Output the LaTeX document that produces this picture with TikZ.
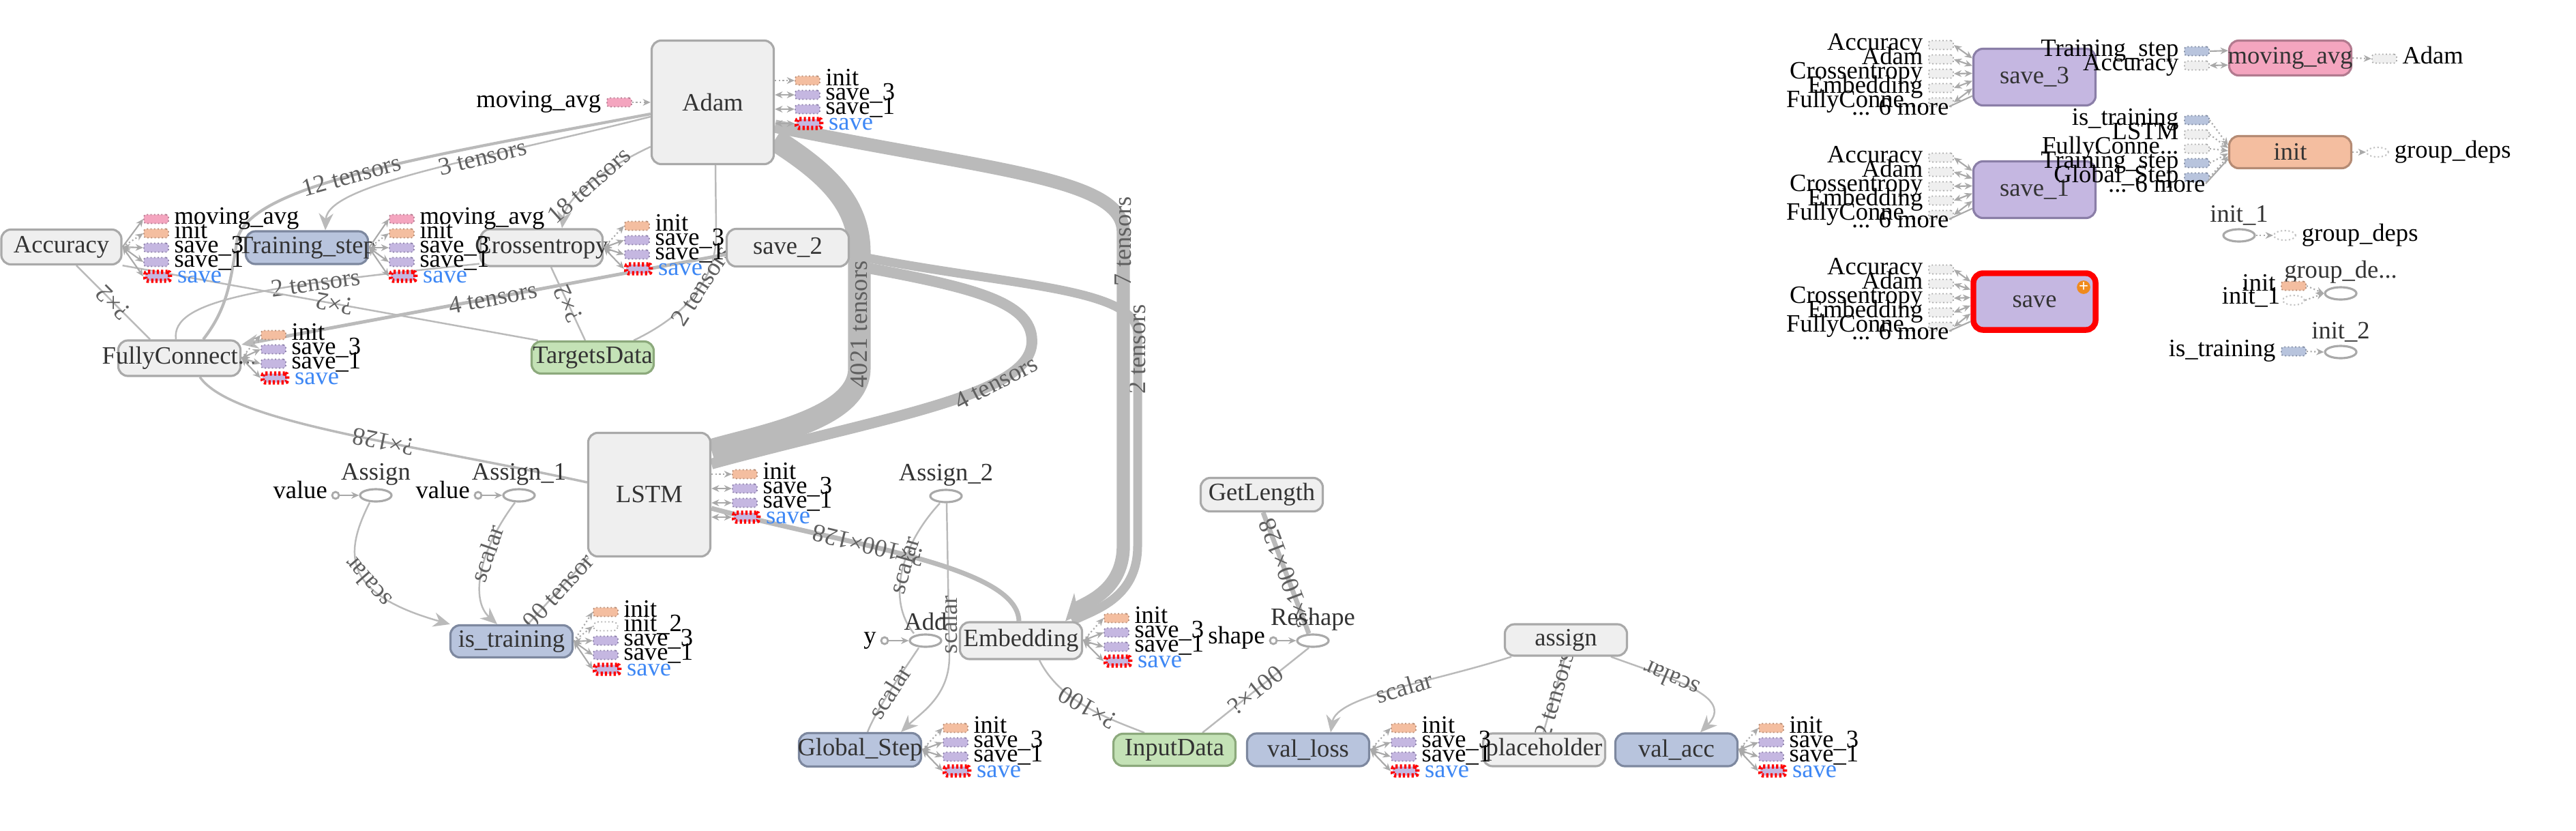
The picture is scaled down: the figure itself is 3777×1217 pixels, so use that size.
\documentclass[tikz,border=0pt]{standalone}
\usepackage{fontspec}
\setmainfont{Liberation Serif}
\usepackage{tikz}
\usetikzlibrary{arrows.meta, shapes.geometric, calc, backgrounds}

\definecolor{opfill}{HTML}{EFEFEF}
\definecolor{opline}{HTML}{A9A9A9}
\definecolor{varfill}{HTML}{B8C4DD}
\definecolor{varline}{HTML}{7D889F}
\definecolor{datfill}{HTML}{C4E2B6}
\definecolor{datline}{HTML}{8CA97C}
\definecolor{savefill}{HTML}{C5B7E1}
\definecolor{saveline}{HTML}{8A7EA7}
\definecolor{movfill}{HTML}{F4A5BF}
\definecolor{movline}{HTML}{B27A8F}
\definecolor{initfill}{HTML}{F4BEA0}
\definecolor{initline}{HTML}{B58B74}
\definecolor{edgecol}{HTML}{BABABA}
\definecolor{elabcol}{HTML}{5F5F5F}
\definecolor{nodetxt}{HTML}{333333}
\definecolor{saveblue}{HTML}{3D87F5}
\definecolor{plusorg}{HTML}{F08A1C}

\newcommand{\nfont}{\fontsize{10.4}{12}\selectfont}
\newcommand{\fitname}[1]{\makebox[0pt]{#1}}
\newcommand{\fcshort}{FullyConne...}
\newcommand{\stdlist}{init/tinit/adot, save\_3/tsave/aarr, save\_1/tsave/aarr, {\color{saveblue}save}/tsel/aarr}
\newcommand{\movlist}{moving\_avg/tmov/aone, init/tinit/adot, save\_3/tsave/aarr, save\_1/tsave/aarr, {\color{saveblue}save}/tsel/aarr}
\newcommand{\trlist}{init/tinit/adot, init\_2/tnone/adot, save\_3/tsave/aarr, save\_1/tsave/aarr, {\color{saveblue}save}/tsel/aarr}
\newcommand{\savein}{Accuracy/tgray/aarr, Adam/tgray/aarr, Crossentropy/tgray/aarr, Embedding/tgray/aarr, \fcshort/tgray/aarr}

% small tags to the right of a node
\newcommand{\annots}[5]{%
  \foreach \lab/\sty/\arr [count=\i] in #5 {
    \node[\sty, anchor=west] (#1-\i) at (#2, #3+21*\i-21) {};
    \node[txt, tlabr] at (#1-\i.south east) {\lab};
    \draw[\arr] (#4) -- (#1-\i.west);
  }}
% small tags to the left of a node
\newcommand{\feeds}[6]{%
  \foreach \lab/\sty/\arr [count=\i] in #6 {
    \pgfmathsetmacro{\fr}{#4+#5*(\i-1)}
    \node[\sty, anchor=west] (#1-in\i) at (#2, #3+21*\i-21) {};
    \node[txt, tlabl] at (#1-in\i.south west) {\lab};
    \draw[\arr] (#1-in\i.east) -- ($(#1.north west)!\fr!(#1.south west)$);
  }}
\newcommand{\moreins}[4]{%
  \node[txt, anchor=base east] (#1-more) at (#2,#3) {... 6 more};
  \draw[aline] (#1-more.east) -- ($(#1.north west)!#4!(#1.south west)$);}

\tikzset{
  txt/.style={inner sep=0pt, font=\nfont},
  tlabr/.style={anchor=base west, xshift=2pt},
  tlabl/.style={anchor=base east, xshift=-2pt},
  op/.style={draw=opline, fill=opfill, line width=0.9pt, rounded corners=4pt,
             minimum width=1.79cm, minimum height=0.48cm, inner sep=0pt,
             text=nodetxt, font=\nfont},
  var/.style={op, draw=varline, fill=varfill},
  dat/.style={op, draw=datline, fill=datfill},
  big/.style={minimum height=1.81cm},
  ell/.style={ellipse, draw=opline, fill=white, line width=0.9pt,
              minimum width=0.46cm, minimum height=0.18cm, inner sep=0pt},
  ellab/.style={font=\nfont, text=nodetxt, inner sep=1pt},
  dell/.style={ellipse, draw=opline!70, densely dotted, fill=white, line width=0.6pt,
               minimum width=0.32cm, minimum height=0.14cm, inner sep=0pt},
  dotin/.style={circle, draw=opline, fill=white, line width=0.8pt,
                minimum size=0.1cm, inner sep=0pt},
  ann/.style={minimum width=0.36cm, minimum height=0.13cm, inner sep=0pt,
              rounded corners=1pt, densely dotted, line width=0.5pt},
  tinit/.style={ann, fill=initfill, draw=initline},
  tsave/.style={ann, fill=savefill, draw=saveline},
  tsel/.style={ann, fill=savefill, draw=red, line width=1.8pt, dash pattern=on 0.9pt off 0.9pt},
  tmov/.style={ann, fill=movfill, draw=movline},
  tgray/.style={ann, fill=opfill, draw=opline},
  tvar/.style={ann, fill=varfill, draw=varline},
  tnone/.style={ann, fill=white, draw=opline, rounded corners=2pt},
  aline/.style={draw=opline, line width=0.6pt},
  aone/.style={aline, -{Stealth[length=3.2pt, width=2.8pt]}},
  adot/.style={aone, densely dotted},
  aarr/.style={aline, {Stealth[length=3.2pt, width=2.8pt]}-{Stealth[length=3.2pt, width=2.8pt]}},
  flow/.style={draw=edgecol, line width=0.7pt},
  headarr/.style={-{Stealth[length=7pt, width=6pt]}},
  elab/.style={text=elabcol, font=\nfont, inner sep=0.5pt},
  upr/.style={elab, sloped},
  flp/.style={elab, sloped, rotate=180}
}

\begin{document}
\begin{tikzpicture}[x=0.01cm, y=-0.01cm]
\useasboundingbox (0,0) rectangle (3777,1217);

% main graph
\node[op, big] (Adam) at (1045,150) {Adam};
\node[op, minimum width=1.76cm, minimum height=0.51cm] (Acc) at (90,362) {Accuracy};
\node[var] (Train) at (450,363) {\fitname{Training\_step}};
\node[op, minimum height=0.54cm] (Cross) at (794,363) {\fitname{Crossentropy}};
\node[op, minimum height=0.55cm] (save2) at (1155,363) {save\_2};
\node[op, minimum height=0.52cm] (FC) at (263,525) {\fitname{FullyConnect...}};
\node[dat, minimum height=0.47cm] (TD) at (869,524) {\fitname{TargetsData}};
\node[op, big] (LSTM) at (952,725) {LSTM};
\node[ell, label={[ellab]above:Assign}] (Assign) at (551,726) {};
\node[ell, label={[ellab]above:Assign\_1}] (Assign1) at (761,726) {};
\node[var, minimum height=0.47cm] (IsTr) at (750,940) {is\_training};
\node[ell, label={[ellab]above:Assign\_2}] (Assign2) at (1387,727) {};
\node[ell, label={[ellab]above:Add}] (Add) at (1357,939) {};
\node[op, minimum height=0.54cm] (Emb) at (1497,939) {Embedding};
\node[var, minimum height=0.49cm] (GS) at (1261,1099) {\fitname{Global\_Step}};
\node[dat, minimum height=0.47cm] (ID) at (1722,1099) {InputData};
\node[op, minimum height=0.49cm] (GL) at (1850,725) {GetLength};
\node[ell, label={[ellab]above:Reshape}] (Reshape) at (1925,939) {};
\node[op, minimum height=0.46cm] (assign) at (2296,938) {assign};
\node[var] (vl) at (1918,1099) {val\_loss};
\node[op] (ph) at (2264,1099) {placeholder};
\node[var] (va) at (2458,1099) {val\_acc};

% inputs drawn in place
\node[tmov, anchor=west] (Adam-mov) at (889,150) {};
\node[txt, tlabl] at (Adam-mov.south west) {moving\_avg};
\draw[adot] (Adam-mov.east) -- (Adam.west |- Adam-mov);
\node[dotin] (Assign-v) at (492,726) {};
\node[txt, tlabl] at (Assign-v.south west) {value};
\draw[aone] (Assign-v.east) -- (Assign.west);
\node[dotin] (Assign1-v) at (701,726) {};
\node[txt, tlabl] at (Assign1-v.south west) {value};
\draw[aone] (Assign1-v.east) -- (Assign1.west);
\node[dotin] (Add-y) at (1297,939) {};
\node[txt, tlabl] at (Add-y.south west) {y};
\draw[aone] (Add-y.east) -- (Add.west);
\node[dotin] (Reshape-s) at (1867,939) {};
\node[txt, tlabl] at (Reshape-s.south west) {shape};
\draw[aone] (Reshape-s.east) -- (Reshape.west);

% outputs drawn in place
\annots{Adam}{1165}{118}{Adam.east |- Adam-\i}{\stdlist}
\annots{Acc}{210}{321}{Acc.east}{\movlist}
\annots{Train}{570}{321}{Train.east}{\movlist}
\annots{Cross}{915}{331}{Cross.east}{\stdlist}
\annots{FC}{382}{491}{FC.east}{\stdlist}
\annots{LSTM}{1073}{695}{LSTM.east |- LSTM-\i}{\stdlist}
\annots{IsTr}{869}{897}{IsTr.east}{\trlist}
\annots{Emb}{1618}{906}{Emb.east}{\stdlist}
\annots{GS}{1382}{1067}{GS.east}{\stdlist}
\annots{vl}{2039}{1067}{vl.east}{\stdlist}
\annots{va}{2578}{1067}{va.east}{\stdlist}

% auxiliary nodes
\node[op, fill=savefill, draw=saveline, minimum height=0.83cm] (save3) at (2983,113) {save\_3};
\node[op, fill=savefill, draw=saveline, minimum height=0.83cm] (save1) at (2983,278) {save\_1};
\node[op, fill=savefill, draw=red, line width=2.4pt, minimum height=0.83cm] (save) at (2983,442) {save};
\node[circle, fill=plusorg, text=white, inner sep=0pt, minimum size=0.15cm,
      font=\fontsize{7}{7}\selectfont\bfseries] (save-plus) at (3055,421) {+};
\feeds{save3}{2827}{66}{0.18}{0.128}{\savein}
\moreins{save3}{2858}{168}{0.82}
\feeds{save1}{2827}{231}{0.18}{0.128}{\savein}
\moreins{save1}{2858}{333}{0.82}
\feeds{save}{2827}{395}{0.18}{0.128}{\savein}
\moreins{save}{2858}{497}{0.82}

\node[op, fill=movfill, draw=movline, minimum height=0.51cm] (mov) at (3358,85) {\fitname{moving\_avg}};
\feeds{mov}{3202}{75}{0.3}{0.39}{{Training\_step/tvar/aone, Accuracy/tgray/aarr}}
\node[tgray, anchor=west] (mov-out) at (3477,86) {};
\draw[adot] (mov.east) -- (mov-out.west);
\node[txt, tlabr] at (mov-out.south east) {Adam};

\node[op, fill=initfill, draw=initline, minimum height=0.47cm] (init) at (3358,223) {init};
\feeds{init}{3202}{176}{0.3}{0.08}{{is\_training/tvar/adot, LSTM/tgray/adot, \fcshort/tgray/adot, Training\_step/tvar/adot, Global\_Step/tvar/adot}}
\moreins{init}{3234}{281}{0.7}
\node[dell] (init-out) at (3486,223) {};
\draw[adot] (init.east) -- (init-out.west);
\node[txt, anchor=west, xshift=2pt] at (init-out.east) {group\_deps};

\node[ell, label={[ellab]above:init\_1}] (init1) at (3283,345) {};
\node[dell] (init1-out) at (3350,345) {};
\draw[adot] (init1.east) -- (init1-out.west);
\node[txt, anchor=west, xshift=2pt] at (init1-out.east) {group\_deps};

\node[ell, label={[ellab]above:group\_de...}] (gdeps) at (3432,430) {};
\node[tinit] (gdeps-in1) at (3363,419) {};
\node[dell] (gdeps-in2) at (3363,440) {};
\node[txt, tlabl] at (gdeps-in1.south west) {init};
\node[txt, tlabl] at (gdeps-in2.south west) {init\_1};
\draw[adot] (gdeps-in1.east) -- (gdeps.west);
\draw[adot] (gdeps-in2.east) -- (gdeps.west);

\node[ell, label={[ellab]above:init\_2}] (init2) at (3432,516) {};
\node[tvar] (init2-in) at (3363,515) {};
\node[txt, tlabl] at (init2-in.south west) {is\_training};
\draw[adot] (init2-in.east) -- (init2.west);

% edges
\begin{scope}[on background layer]
\fill[white] (0,0) rectangle (3777,1217);
\draw[flow, line width=3.7pt] ([yshift=-0.1cm]save2.east) .. controls (1480,420) and (1668,420) .. (1668,490)
  -- (1668,800) node[elab, pos=0.07, rotate=90] {2 tensors}
  .. controls (1668,880) and (1600,895) .. ([xshift=0.75cm]Emb.north);
\draw[flow, line width=4.5pt] ([yshift=-0.25cm]save2.east) .. controls (1420,420) and (1513,440) .. (1513,500)
  .. controls (1513,580) and (1300,610) .. ([yshift=0.45cm]LSTM.east) node[upr, pos=0.3] {4 tensors};
\draw[flow, line width=9.4pt] ([yshift=-0.55cm]Adam.east) .. controls (1215,255) and (1260,300) .. (1260,370)
  -- (1260,540) node[elab, pos=0.62, rotate=90] {4021 tensors}
  .. controls (1260,615) and (1110,640) .. ([yshift=0.65cm]LSTM.east);
\draw[flow, line width=5.5pt, -{Stealth[length=11pt, width=10pt]}] ([yshift=-0.35cm]Adam.east)
  .. controls (1450,250) and (1647,260) .. (1647,340)
  -- (1647,800) node[elab, pos=0.03, rotate=90] {7 tensors}
  .. controls (1647,870) and (1585,885) .. ([xshift=0.65cm]Emb.north);
\draw[flow, line width=2pt] ([yshift=-0.2cm]LSTM.east) .. controls (1250,800) and (1492,830) .. ([xshift=-0.03cm]Emb.north)
  node[flp, pos=0.37] {?×100×128};
\draw[flow, line width=2pt] ([xshift=0.02cm]GL.south) -- ([xshift=-0.06cm]Reshape.north) node[flp, pos=0.5] {?×100×128};
\draw[flow, line width=1.2pt] ([xshift=0.35cm]FC.north) .. controls (335,450) and (338,410) .. (348,350)
  .. controls (370,270) and (620,230) .. ([yshift=-0.17cm]Adam.west) node[upr, pos=0.47] {12 tensors};
\draw[flow, headarr] ([yshift=-0.21cm]Adam.west) .. controls (700,235) and (480,270) .. ([xshift=0.27cm]Train.north)
  node[upr, pos=0.35] {3 tensors};
\draw[flow, headarr] ([yshift=-0.65cm]Adam.west) .. controls (880,250) and (830,290) .. ([xshift=0.3cm]Cross.north)
  node[upr, pos=0.5] {18 tensors};
\draw[flow] ([xshift=0.04cm]Adam.south) -- (1050,340) .. controls (1052,420) and (990,470) .. ([xshift=0.6cm]TD.north)
  node[upr, pos=0.38] {2 tensors};
\draw[flow, line width=1.4pt, headarr] ([yshift=-0.1cm]save2.west) -- ([yshift=0.2cm]FC.east) node[upr, pos=0.48] {4 tensors};
\draw[flow] ([xshift=-0.05cm]FC.north) .. controls (250,440) and (380,420) .. ([yshift=0.05cm]Cross.south west)
  node[upr, pos=0.7] {2 tensors};
\draw[flow] ([xshift=0.22cm]Acc.south) -- ([xshift=-0.43cm]FC.north) node[flp, pos=0.5] {?×2};
\draw[flow] (Acc.south east) -- ([xshift=-0.8cm]TD.north) node[flp, pos=0.51] {?×2};
\draw[flow] ([xshift=0.14cm]Cross.south) -- ([xshift=-0.11cm]TD.north) node[flp, pos=0.5] {?×2};
\draw[flow, line width=1pt] ([xshift=0.3cm]FC.south) .. controls (340,620) and (600,650) .. ([yshift=0.18cm]LSTM.west)
  node[flp, pos=0.6] {?×128};
\draw[flow] ([xshift=0.02cm]LSTM.south west) -- ([xshift=0.24cm]IsTr.north) node[upr, pos=0.5] {00 tensor};
\draw[flow, headarr] ([xshift=-0.09cm]Assign.south) .. controls (505,810) and (500,870) .. ([xshift=-0.9cm]IsTr.north)
  node[flp, pos=0.6] {scalar};
\draw[flow, headarr] ([xshift=-0.06cm]Assign1.south) .. controls (700,810) and (690,880) .. ([xshift=-0.21cm]IsTr.north)
  node[upr, pos=0.35] {scalar};
\draw[flow] ([xshift=-0.09cm]Assign2.south) .. controls (1320,800) and (1300,880) .. ([xshift=-0.17cm]Add.north)
  node[upr, pos=0.45] {scalar};
\draw[flow, headarr] ([xshift=0.01cm]Assign2.south) -- (1392,960) node[elab, pos=0.8, rotate=90] {scalar}
  .. controls (1393,1020) and (1350,1045) .. ([xshift=0.6cm]GS.north);
\draw[flow] ([xshift=-0.1cm]Add.south) .. controls (1320,990) and (1285,1040) .. ([xshift=0.11cm]GS.north)
  node[upr, pos=0.5] {scalar};
\draw[flow] ([xshift=0.27cm]Emb.south) .. controls (1555,1030) and (1630,1055) .. ([xshift=-0.44cm]ID.north)
  node[flp, pos=0.5] {?×100};
\draw[flow] ([xshift=0.41cm]ID.north) -- ([xshift=-0.06cm]Reshape.south) node[upr, pos=0.5] {?×100};
\draw[flow, headarr] ([xshift=-0.8cm]assign.south) .. controls (2100,1000) and (1960,1020) .. ([xshift=0.33cm]vl.north)
  node[upr, pos=0.45] {scalar};
\draw[flow] ([xshift=-0.01cm]assign.south) -- ([xshift=-0.01cm]ph.north) node[upr, pos=0.5] {2 tensors};
\draw[flow, headarr] ([xshift=0.66cm]assign.south) .. controls (2450,995) and (2545,1020) .. ([xshift=0.35cm]va.north)
  node[flp, pos=0.35] {scalar};
\end{scope}
\end{tikzpicture}
\end{document}
